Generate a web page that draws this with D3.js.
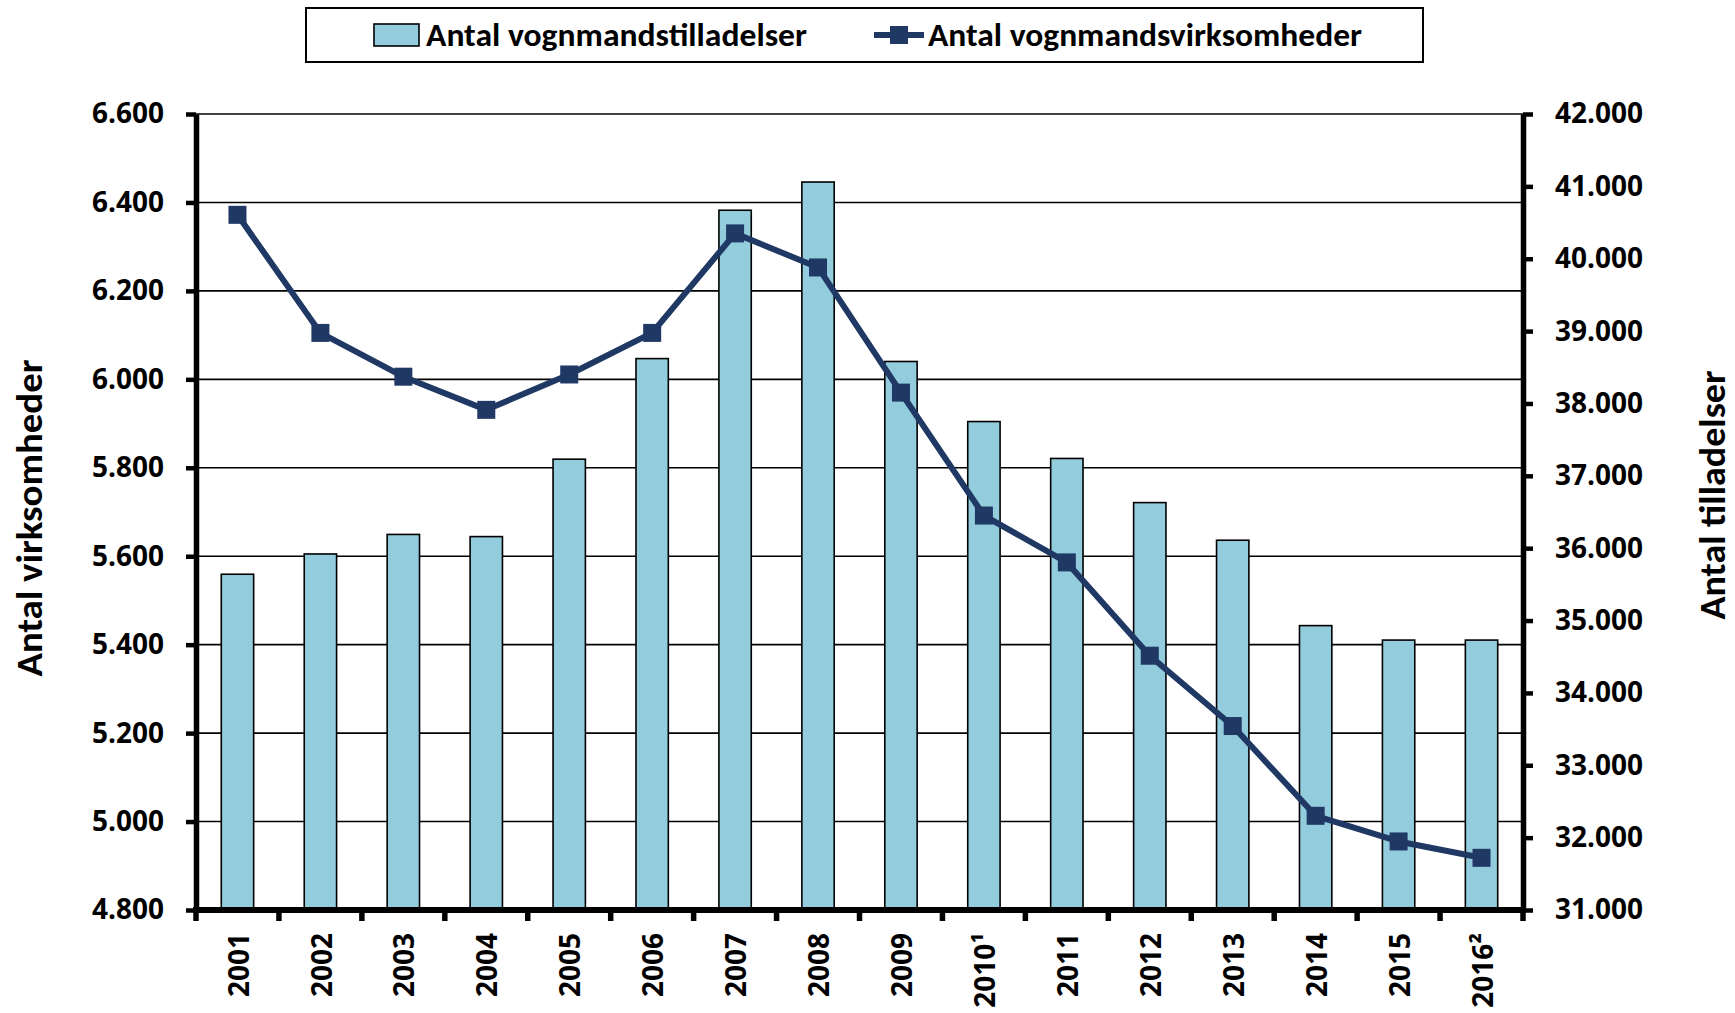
<!DOCTYPE html>
<html>
<head>
<meta charset="utf-8">
<script src="https://cdn.jsdelivr.net/npm/d3@7"></script>
<style>
  body { margin: 0; background: #fff; }
  svg { display: block; }
</style>
</head>
<body>
<script>
// Chart data
var years = ["2001", "2002", "2003", "2004", "2005", "2006", "2007", "2008",
  "2009", "2010\u00b9", "2011", "2012", "2013", "2014", "2015", "2016\u00b2"];
var tilladelser = [35640, 35920, 36190, 36160, 37230, 38620, 40670, 41060,
  38580, 37750, 37240, 36630, 36110, 34930, 34730, 34730];
var virksomheder = [6372, 6105, 6006, 5931, 6011, 6105, 6330, 6253,
  5970, 5692, 5586, 5375, 5216, 5013, 4955, 4918];
var leftTicks = [4800, 5000, 5200, 5400, 5600, 5800, 6000, 6200, 6400, 6600];
var rightTicks = [31000, 32000, 33000, 34000, 35000, 36000, 37000, 38000, 39000, 40000, 41000, 42000];
var legendLabels = ["Antal vognmandstilladelser", "Antal vognmandsvirksomheder"];
var leftTitle = "Antal virksomheder";
var rightTitle = "Antal tilladelser";

var W = 1735, H = 1013;
var margin = { top: 114, right: 212, bottom: 103, left: 196 };
var width = W - margin.left - margin.right,
  height = H - margin.top - margin.bottom;

var barFill = "#93cddd", lineColor = "#1f3864";
var tickFont = "'Open Sans', sans-serif";
var titleFont = "Carlito, Lato, sans-serif";

// danish number format: 6.600, 42.000
var fmt = d3.formatLocale({ decimal: ",", thousands: ".", grouping: [3], currency: ["", " kr."] }).format(",d");

var svg = d3.select("body").append("svg")
  .attr("width", W)
  .attr("height", H);

var g = svg.append("g")
  .attr("transform", "translate(" + margin.left + "," + margin.top + ")");

var x = d3.scaleBand().domain(years).range([0, width]).padding(0);
var yL = d3.scaleLinear().domain([4800, 6600]).range([height, 0]);
var yR = d3.scaleLinear().domain([31000, 42000]).range([height, 0]);

// gridlines at the left axis ticks
g.append("g")
  .selectAll("line")
  .data(leftTicks.slice(1))
  .enter()
  .append("line")
  .attr("x1", 0)
  .attr("x2", width)
  .attr("y1", d => yL(d))
  .attr("y2", d => yL(d))
  .attr("stroke", "#000")
  .attr("stroke-width", 1.6);

// bars (right axis)
var barW = x.bandwidth() * 0.39;
g.append("g")
  .selectAll("rect")
  .data(tilladelser)
  .enter()
  .append("rect")
  .attr("x", (d, i) => x(years[i]) + (x.bandwidth() - barW) / 2)
  .attr("y", d => yR(d))
  .attr("width", barW)
  .attr("height", d => height - yR(d))
  .attr("fill", barFill)
  .attr("stroke", "#000")
  .attr("stroke-width", 1.6);

// line (left axis)
var line = d3.line()
  .x((d, i) => x(years[i]) + x.bandwidth() / 2)
  .y(d => yL(d));

g.append("path")
  .datum(virksomheder)
  .attr("d", line)
  .attr("fill", "none")
  .attr("stroke", lineColor)
  .attr("stroke-width", 6)
  .attr("stroke-linejoin", "round");

var mk = 18;
g.append("g")
  .selectAll("rect")
  .data(virksomheder)
  .enter()
  .append("rect")
  .attr("x", (d, i) => x(years[i]) + x.bandwidth() / 2 - mk / 2)
  .attr("y", d => yL(d) - mk / 2)
  .attr("width", mk)
  .attr("height", mk)
  .attr("fill", lineColor);

// axes
function styleAxis(sel) {
  sel.select(".domain").attr("stroke", "#000").attr("stroke-width", 5.5);
  sel.selectAll(".tick line").attr("stroke", "#000").attr("stroke-width", 4.5);
  sel.selectAll(".tick text")
    .attr("fill", "#000")
    .style("font-family", tickFont)
    .style("font-weight", 700)
    .style("font-size", "28px");
}

g.append("g")
  .call(d3.axisLeft(yL).tickValues(leftTicks).tickFormat(fmt).tickSizeInner(10).tickSizeOuter(0).tickPadding(22))
  .call(styleAxis);

g.append("g")
  .attr("transform", "translate(" + width + ",0)")
  .call(d3.axisRight(yR).tickValues(rightTicks).tickFormat(fmt).tickSizeInner(10).tickSizeOuter(0).tickPadding(22))
  .call(styleAxis);

// x axis: ticks at the category boundaries
var bottom = g.append("g").attr("transform", "translate(0," + height + ")");
bottom.append("line")
  .attr("x1", -3).attr("x2", width + 3)
  .attr("stroke", "#000").attr("stroke-width", 6);
bottom.selectAll(".xtick")
  .data(years.concat(["end"]))
  .enter()
  .append("line")
  .attr("class", "xtick")
  .attr("x1", (d, i) => i * x.step())
  .attr("x2", (d, i) => i * x.step())
  .attr("y1", 0)
  .attr("y2", 11)
  .attr("stroke", "#000")
  .attr("stroke-width", 5.5);

bottom.selectAll(".xlabel")
  .data(years)
  .enter()
  .append("text")
  .attr("class", "xlabel")
  .attr("transform", d => "translate(" + (x(d) + x.bandwidth() / 2 + 1) + ",23) rotate(-90)")
  .attr("text-anchor", "end")
  .attr("dy", "0.36em")
  .attr("fill", "#000")
  .style("font-family", tickFont)
  .style("font-weight", 700)
  .style("font-size", "28px")
  .text(d => d);

// axis titles
svg.append("text")
  .attr("transform", "translate(29," + 518 + ") rotate(-90)")
  .attr("text-anchor", "middle")
  .attr("dy", "0.35em")
  .attr("textLength", 317)
  .attr("lengthAdjust", "spacingAndGlyphs")
  .style("font-family", titleFont)
  .style("font-weight", 700)
  .style("font-size", "36px")
  .text(leftTitle);

svg.append("text")
  .attr("transform", "translate(1712," + 495 + ") rotate(-90)")
  .attr("text-anchor", "middle")
  .attr("dy", "0.35em")
  .attr("textLength", 249)
  .attr("lengthAdjust", "spacingAndGlyphs")
  .style("font-family", titleFont)
  .style("font-weight", 700)
  .style("font-size", "36px")
  .text(rightTitle);

// legend
var legend = svg.append("g");
legend.append("rect")
  .attr("x", 306).attr("y", 8)
  .attr("width", 1117).attr("height", 54)
  .attr("fill", "#fff")
  .attr("stroke", "#000")
  .attr("stroke-width", 2);

legend.append("rect")
  .attr("x", 374).attr("y", 24)
  .attr("width", 45).attr("height", 22)
  .attr("fill", barFill)
  .attr("stroke", "#000")
  .attr("stroke-width", 1.6);

legend.append("line")
  .attr("x1", 874).attr("x2", 924)
  .attr("y1", 35).attr("y2", 35)
  .attr("stroke", lineColor)
  .attr("stroke-width", 6);
legend.append("rect")
  .attr("x", 899 - mk / 2).attr("y", 35 - mk / 2)
  .attr("width", mk).attr("height", mk)
  .attr("fill", lineColor);

legend.selectAll(".ltext")
  .data(legendLabels)
  .enter()
  .append("text")
  .attr("class", "ltext")
  .attr("x", (d, i) => i === 0 ? 426 : 928)
  .attr("y", 35)
  .attr("dy", "0.35em")
  .attr("textLength", (d, i) => i === 0 ? 381 : 434)
  .attr("lengthAdjust", "spacingAndGlyphs")
  .style("font-family", titleFont)
  .style("font-weight", 700)
  .style("font-size", "32px")
  .text(d => d);
</script>
</body>
</html>
